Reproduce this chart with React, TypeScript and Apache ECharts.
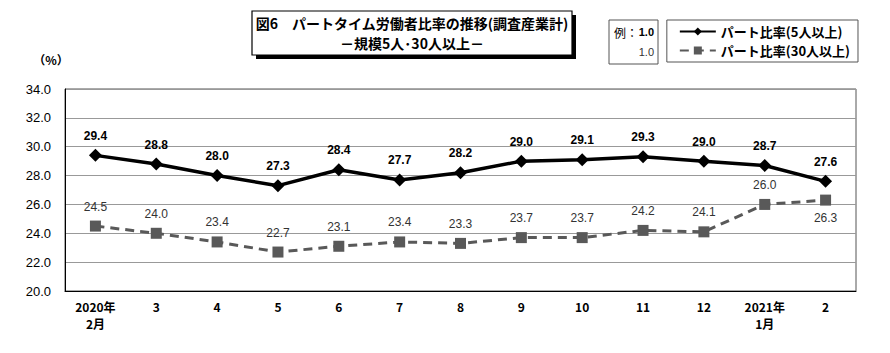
import React, { useEffect, useRef } from "react";
import * as echarts from "echarts";

const categories = ["2020年\n2月", "3", "4", "5", "6", "7", "8", "9", "10", "11", "12", "2021年\n1月", "2"];
const series5 = [29.4, 28.8, 28.0, 27.3, 28.4, 27.7, 28.2, 29.0, 29.1, 29.3, 29.0, 28.7, 27.6];
const series30 = [24.5, 24.0, 23.4, 22.7, 23.1, 23.4, 23.3, 23.7, 23.7, 24.2, 24.1, 26.0, 26.3];
const seriesNames = ["パート比率(5人以上)", "パート比率(30人以上)"];
const titleLines = ["図6　パートタイム労働者比率の推移(調査産業計)", "－規模5人･30人以上－"];

const JP = "'Noto Sans CJK JP', sans-serif";
const NARROW = "'Liberation Sans Narrow', 'Liberation Sans', sans-serif";

export default function App() {
  const ref = useRef<HTMLDivElement>(null);
  useEffect(() => {
    const chart = echarts.init(ref.current!, undefined, { renderer: "svg" });
    chart.setOption({
      animation: false,
      backgroundColor: "#ffffff",
      grid: { left: 65, right: 34, top: 89, bottom: 62, show: true, borderColor: "#555", borderWidth: 1 },
      legend: {
        orient: "vertical",
        right: 32,
        top: 20,
        width: 194,
        itemGap: 6,
        itemWidth: 36,
        itemHeight: 10,
        padding: [5, 8, 5, 12],
        borderColor: "#555",
        borderWidth: 1,
        textStyle: { fontFamily: JP, fontSize: 13, fontWeight: "bold", color: "#000" },
        data: seriesNames,
      },
      xAxis: {
        type: "category",
        data: categories,
        boundaryGap: true,
        axisLine: { lineStyle: { color: "#000", width: 1 } },
        axisTick: { show: false },
        axisLabel: { fontFamily: JP, fontSize: 12, fontWeight: "bold", color: "#000", margin: 7, lineHeight: 17, interval: 0 },
      },
      yAxis: {
        type: "value",
        min: 20,
        max: 34,
        interval: 2,
        name: "（%）",
        nameLocation: "end",
        nameGap: 24,
        nameTextStyle: { fontFamily: JP, fontSize: 12, fontWeight: "bold", color: "#000", padding: [0, 28, 0, 0] },
        axisLine: { show: true, lineStyle: { color: "#000" } },
        axisTick: { show: false },
        axisLabel: { fontFamily: NARROW, fontSize: 13, color: "#000", margin: 14, formatter: (v: number) => v.toFixed(1) },
        splitLine: { lineStyle: { color: "#999", width: 1 } },
      },
      series: [
        {
          name: seriesNames[0],
          type: "line",
          data: series5,
          symbol: "diamond",
          symbolSize: 13,
          lineStyle: { color: "#000", width: 3.5 },
          itemStyle: { color: "#000" },
          label: {
            show: true,
            position: "top",
            distance: 7,
            fontFamily: NARROW,
            fontSize: 12,
            fontWeight: "bold",
            color: "#000",
            formatter: (p: any) => p.value.toFixed(1),
          },
        },
        {
          name: seriesNames[1],
          type: "line",
          data: series30.map((v, i) => ({
            value: v,
            label: i === series30.length - 1 ? { position: "bottom", distance: 6 } : undefined,
          })),
          symbol: "rect",
          symbolSize: 11,
          lineStyle: { color: "#595959", width: 3, type: [9, 6] },
          itemStyle: { color: "#595959" },
          label: {
            show: true,
            position: "top",
            distance: 8,
            fontFamily: NARROW,
            fontSize: 12,
            color: "#333",
            formatter: (p: any) => Number(p.value).toFixed(1),
          },
        },
      ],
      graphic: [
        { type: "rect", shape: { x: 256, y: 15, width: 320, height: 44 }, style: { fill: "#000" } },
        { type: "rect", shape: { x: 252, y: 11, width: 320, height: 44 }, style: { fill: "#fff", stroke: "#000", lineWidth: 1.2 } },
        { type: "text", x: 412, y: 23, style: { text: titleLines[0], font: `bold 14px ${JP}`, fill: "#000", align: "center", verticalAlign: "middle" } },
        { type: "text", x: 412, y: 43, style: { text: titleLines[1], font: `bold 14px ${JP}`, fill: "#000", align: "center", verticalAlign: "middle" } },
        { type: "rect", shape: { x: 609, y: 20, width: 49, height: 44 }, style: { fill: "#fff", stroke: "#555", lineWidth: 1 } },
        { type: "text", x: 614, y: 32, style: { text: "例：", font: `12px ${JP}`, fill: "#000", verticalAlign: "middle" } },
        { type: "text", x: 654, y: 32, style: { text: "1.0", font: `bold 11px ${NARROW}`, fill: "#000", align: "right", verticalAlign: "middle" } },
        { type: "text", x: 654, y: 52, style: { text: "1.0", font: `11px ${NARROW}`, fill: "#333", align: "right", verticalAlign: "middle" } },
      ],
    });
    return () => chart.dispose();
  }, []);
  return <div ref={ref} style={{ position: "absolute", left: 0, top: 0, width: 890, height: 353 }} />;
}
